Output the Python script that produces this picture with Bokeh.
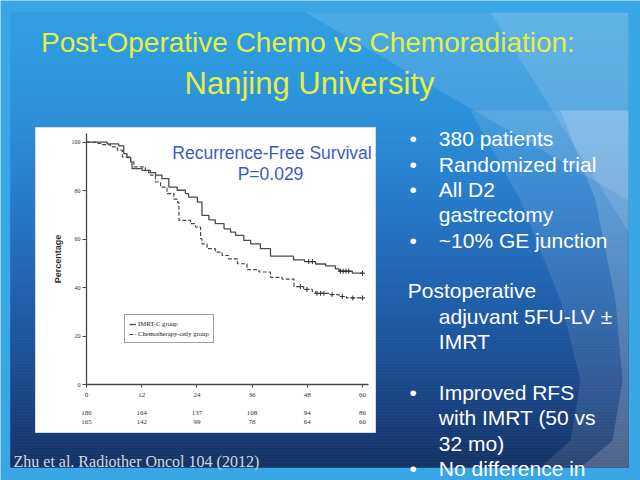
import numpy as np
from bokeh.plotting import figure
from bokeh.models import Range1d, LinearAxis, FixedTicker, Legend, LegendItem
from bokeh.core.properties import value
from bokeh.embed import file_html
from bokeh.resources import INLINE

# ---------------- data ----------------
imrt_months = [0, 4.5, 7.0, 8.1, 8.8, 9.6, 9.9, 12.1, 13.5, 15.0, 16.4, 17.9, 19.7, 21.5,
               22.2, 24.1, 25.1, 26.6, 28.0, 29.9, 31.3, 32.4, 34.2, 35.7, 37.8, 40.0, 45.0,
               47.4, 49.8, 52.0, 54.1, 54.9, 57.8, 60.0]
imrt_surv = [100, 99.3, 98.5, 95.3, 93.7, 91.9, 89.1, 88.4, 87.5, 86.4, 85.0, 81.5, 80.2, 78.8,
             77.4, 75.3, 69.8, 68.0, 66.4, 64.3, 62.9, 61.6, 59.5, 58.1, 56.1, 53.0, 51.5,
             50.8, 49.8, 49.0, 47.8, 46.8, 46.0, 46.0]
imrt_cens_months = [48.3, 49.1, 55.2, 55.8, 56.4, 57.0, 60.0]
imrt_cens_surv = [50.8, 50.8, 46.8, 46.8, 46.8, 46.8, 46.0]

chemo_months = [0, 2.0, 3.4, 5.2, 6.7, 7.8, 9.6, 10.3, 12.8, 13.9, 15.0, 16.1, 17.5, 19.0,
                19.8, 20.1, 22.6, 23.7, 24.8, 25.1, 26.2, 28.0, 29.5, 30.9, 32.8, 34.9, 37.5,
                40.0, 42.5, 45.1, 47.2, 49.1, 49.8, 53.0, 54.9, 56.5, 60.0]
chemo_surv = [100, 99.5, 99.0, 98.1, 96.7, 93.9, 91.9, 89.8, 88.4, 86.4, 83.6, 81.5, 78.8, 76.5,
              75.0, 67.8, 66.4, 65.0, 60.2, 58.1, 56.1, 54.7, 53.3, 51.9, 49.9, 47.5, 46.5,
              44.3, 43.6, 40.5, 39.3, 38.4, 37.7, 37.2, 36.4, 35.8, 35.8]
chemo_cens_months = [46.5, 47.9, 50.1, 50.9, 51.6, 53.4, 55.6, 57.9, 60.0]
chemo_cens_surv = [40.5, 39.3, 37.7, 37.7, 37.7, 37.2, 36.4, 35.8, 35.8]

x_ticks = [0, 12, 24, 36, 48, 60]
y_ticks = [0, 20, 40, 60, 80, 100]
risk_months = [0, 12, 24, 36, 48, 60]
risk_imrt = [186, 164, 137, 108, 94, 86]
risk_chemo = [165, 142, 99, 78, 64, 60]

legend_labels = ["IMRT-C group", "Chemotherapy-only group"]
title_lines = ["Post-Operative Chemo vs Chemoradiation:", "Nanjing University"]
chart_note = ["Recurrence-Free Survival", "P=0.029"]
citation = "Zhu et al. Radiother Oncol 104 (2012)"
bullet_lines = [("380 patients", "bullet"), ("Randomized trial", "bullet"), ("All D2", "bullet"),
                ("gastrectomy", "cont"), ("~10% GE junction", "bullet"), ("", "blank"),
                ("Postoperative", "hang"), ("adjuvant 5FU-LV \u00b1", "cont"), ("IMRT", "cont"),
                ("", "blank"), ("Improved RFS", "bullet"), ("with IMRT (50 vs", "cont"),
                ("32 mo)", "cont"), ("No difference in", "bullet")]

# ---------------- layout (page pixel geometry) ----------------
W, H = 640, 480
X0, Y0 = 0, 0
PX0, PY0 = 86.0, 384.3              # page px of (0 months, 0 %)
SX, SY = 4.6, 2.426                 # px per month, px per %

p = figure(width=W, height=H, x_range=Range1d(X0, X0 + W), y_range=Range1d(Y0 + H, Y0),
           x_axis_type=None, y_axis_type=None, toolbar_location=None,
           output_backend="svg", min_border=0)
p.outline_line_color = None
p.background_fill_color = "#39a6e5"
p.border_fill_color = "#39a6e5"
p.extra_x_ranges = {"km": Range1d((X0 - PX0) / SX, (X0 + W - PX0) / SX)}
p.extra_y_ranges = {"km": Range1d((PY0 - (Y0 + H)) / SY, (PY0 - Y0) / SY)}

# ---- slide background: vertical gradient panel ----
stops_y = [12, 115, 200, 300, 400, 467]
stops_c = [(50, 160, 226), (45, 145, 218), (40, 122, 202), (33, 95, 170), (27, 68, 132), (23, 50, 100)]
edges = np.arange(12, 467, 3)
tops, bots, cols = [], [], []
for a in edges:
    b = min(a + 3, 467)
    mid = (a + b) / 2
    rgb = [int(np.interp(mid, stops_y, [c[k] for c in stops_c])) for k in range(3)]
    tops.append(a); bots.append(b); cols.append("#%02x%02x%02x" % tuple(rgb))
p.quad(left=10, right=628, top=tops, bottom=bots, fill_color=cols, line_color=cols, line_width=0.5)

# translucent lighter shapes on the right
p.patch([305, 628, 628], [12, 12, 200], fill_color="white", fill_alpha=0.12, line_color=None)
p.patch([490, 628, 628], [12, 12, 231], fill_color="white", fill_alpha=0.12, line_color=None)
p.patch([470, 520, 560, 580, 570, 540, 628, 628], [110, 200, 300, 380, 440, 467, 467, 110],
        fill_color="white", fill_alpha=0.10, line_color=None)
p.patch([560, 595, 615, 622, 612, 580, 628, 628], [110, 200, 300, 380, 440, 467, 467, 110],
        fill_color="white", fill_alpha=0.16, line_color=None)

# ---- white chart card ----
p.quad(left=35, right=375, top=127, bottom=432, fill_color="white", line_color="#d5dbe2", line_width=1)

# ---- Kaplan-Meier curves ----
curve_col = "#4a4a4a"
r1 = p.step(imrt_months, imrt_surv, mode="after", line_color=curve_col, line_width=1.3,
            x_range_name="km", y_range_name="km")
r2 = p.step(chemo_months, chemo_surv, mode="after", line_color=curve_col, line_width=1.2,
            line_dash="4 2", x_range_name="km", y_range_name="km")
p.scatter(imrt_cens_months, imrt_cens_surv, marker="cross", size=5, line_color="#333333",
          line_width=1, x_range_name="km", y_range_name="km")
p.scatter(chemo_cens_months, chemo_cens_surv, marker="cross", size=5, line_color="#333333",
          line_width=1, x_range_name="km", y_range_name="km")

# ---- axes placed on the chart ----
xax = LinearAxis(x_range_name="km", y_range_name="km", fixed_location=0, bounds=(0, 61.3),
                 ticker=FixedTicker(ticks=x_ticks))
yax = LinearAxis(x_range_name="km", y_range_name="km", fixed_location=0, bounds=(0, 103.6),
                 ticker=FixedTicker(ticks=y_ticks), axis_label="Percentage")
for ax in (xax, yax):
    ax.axis_line_color = "#444444"
    ax.axis_line_width = 1.3
    ax.major_tick_line_color = "#444444"
    ax.major_tick_in = 0
    ax.minor_tick_in = 0
    ax.minor_tick_out = 0
    ax.major_label_text_font = "Liberation Serif"
    ax.major_label_text_color = "#333333"
xax.major_tick_out = 3
xax.major_label_standoff = 5
xax.major_label_text_font_size = "7px"
yax.major_tick_out = 4
yax.major_label_standoff = 2
yax.major_label_text_font_size = "6px"
yax.axis_label_text_font = "Liberation Sans"
yax.axis_label_text_font_style = "bold"
yax.axis_label_text_font_size = "9px"
yax.axis_label_text_color = "#333333"
yax.axis_label_standoff = 6
p.add_layout(xax, "below")
p.add_layout(yax, "left")

# ---- numbers at risk ----
risk_row1 = (PY0 - 412.7) / SY
risk_row2 = (PY0 - 421.0) / SY
p.text(risk_months, [risk_row1] * len(risk_months), text=[str(v) for v in risk_imrt],
       text_font=value("Liberation Serif"), text_font_size="7px", text_color="#333333",
       text_align="center", text_baseline="middle", x_range_name="km", y_range_name="km")
p.text(risk_months, [risk_row2] * len(risk_months), text=[str(v) for v in risk_chemo],
       text_font=value("Liberation Serif"), text_font_size="7px", text_color="#333333",
       text_align="center", text_baseline="middle", x_range_name="km", y_range_name="km")

# ---- legend ----
legend = Legend(items=[LegendItem(label=legend_labels[0], renderers=[r1]),
                       LegendItem(label=legend_labels[1], renderers=[r2])],
                location=(124, 137))
legend.label_text_font = "Liberation Serif"
legend.label_text_font_size = "6.7px"
legend.label_text_color = "#222222"
legend.glyph_width = 7
legend.glyph_height = 8
legend.label_height = 9
legend.label_standoff = 2
legend.padding = 4
legend.spacing = 1
legend.margin = 0
legend.border_line_color = "#444444"
legend.border_line_width = 1
legend.background_fill_color = "white"
legend.background_fill_alpha = 1
p.add_layout(legend)

# ---- chart annotation (blue) ----
p.text([271.5, 270.0], [152.3, 173.3], text=chart_note, text_font=value("Liberation Sans"),
       text_font_size="17.5px", text_color="#3a5cc8", text_align="center",
       text_baseline="middle")

# ---- slide title ----
p.text([307.5], [41.7], text=[title_lines[0]], text_font=value("Liberation Sans"),
       text_font_size="28px", text_color="#e4ef45", text_align="center", text_baseline="middle")
p.text([309.0], [83.0], text=[title_lines[1]], text_font=value("Liberation Sans"),
       text_font_size="31px", text_color="#e4ef45", text_align="center", text_baseline="middle")

# ---- bullet text on the right ----
bx, tx, hx = 412.7, 438.3, 407.3
by0, bdy = 138.3, 25.35
dots_y, txt_x, txt_y, txt = [], [], [], []
for i, (line, kind) in enumerate(bullet_lines):
    yy = by0 + i * bdy
    if kind == "blank":
        continue
    if kind == "bullet":
        dots_y.append(yy)
    txt_x.append(hx if kind == "hang" else tx)
    txt_y.append(yy)
    txt.append(line)
p.text([bx] * len(dots_y), dots_y, text=["\u2022"] * len(dots_y), text_font=value("Liberation Sans"),
       text_font_size="21px", text_color="white", text_align="center", text_baseline="middle")
p.text(txt_x, txt_y, text=txt, text_font=value("Liberation Sans"), text_font_size="21px",
       text_color="white", text_align="left", text_baseline="middle")

# ---- citation ----
p.text([13], [460.7], text=[citation], text_font=value("Liberation Serif"), text_font_size="16px",
       text_color="#d3d8e4", text_align="left", text_baseline="middle")

open("out.html", "w").write(file_html(p, INLINE))
